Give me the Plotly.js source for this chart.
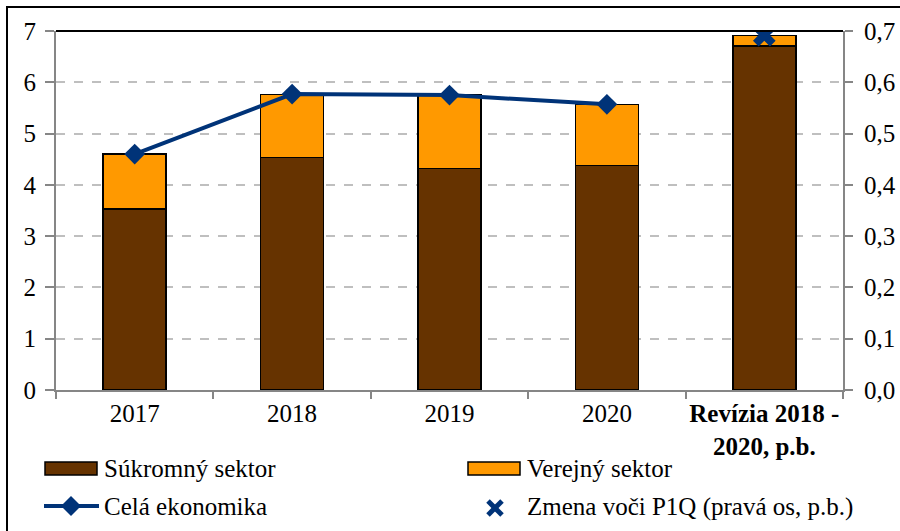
<!DOCTYPE html>
<html>
<head>
<meta charset="utf-8">
<script src="https://cdn.plot.ly/plotly-3.0.1.min.js"></script>
<style>html,body{margin:0;padding:0;background:#fff;}#chart{width:900px;height:531px;}
#chart svg text, #chart svg tspan { font-family: 'Liberation Serif', 'Times New Roman', serif !important; }</style>
</head>
<body>
<div id="chart"></div>
<script>
// ---- data ----
const categories = ['2017', '2018', '2019', '2020', 'Revízia'];
const tickLabels = ['2017', '2018', '2019', '2020', '<b>Revízia 2018 -<br>2020, p.b.</b>'];
const sukromny = [3.53, 4.53, 4.32, 4.38, 6.71];
const verejny = [1.07, 1.23, 1.43, 1.19, 0.20];
const lineCats = ['2017', '2018', '2019', '2020'];
const celaEkonomika = [4.60, 5.77, 5.75, 5.57];
const zmenaCats = ['Revízia'];
const zmena = [0.692];
const seriesNames = ['Súkromný sektor', 'Verejný sektor', 'Celá ekonomika', 'Zmena voči P1Q (pravá os, p.b.)'];

// ---- styles ----
const BROWN = '#663300', ORANGE = '#FF9900', NAVY = '#003378', GREY = '#868686';
const FONT = 'Liberation Serif';
const L = 56, R = 843, T = 31, B = 390;
const px = x => (x - L) / (R - L);
const py = y => (B - y) / (B - T);

const traces = [
  {type: 'bar', name: seriesNames[0], x: categories, y: sukromny, width: 0.4,
   marker: {color: BROWN, line: {color: '#000', width: 1.5}}, hoverinfo: 'y'},
  {type: 'bar', name: seriesNames[1], x: categories, y: verejny, width: 0.4,
   marker: {color: ORANGE, line: {color: '#000', width: 1.5}}, hoverinfo: 'y'},
  {type: 'scatter', mode: 'lines+markers', name: seriesNames[2], x: lineCats, y: celaEkonomika,
   line: {color: NAVY, width: 4}, marker: {symbol: 'diamond', size: 16, color: NAVY}},
  {type: 'scatter', mode: 'markers', name: seriesNames[3], x: zmenaCats, y: zmena, yaxis: 'y2',
   marker: {symbol: 'x', size: 20, color: NAVY}}
];

const shapes = [
  {type: 'rect', xref: 'paper', yref: 'paper', x0: px(7), x1: px(1000), y0: py(600), y1: py(7),
   line: {color: '#000', width: 2}, layer: 'below'},
  {type: 'line', xref: 'paper', yref: 'paper', x0: 0, x1: 1, y0: 1, y1: 1, line: {color: '#000', width: 2}},
  {type: 'rect', xref: 'paper', yref: 'paper', x0: px(45), x1: px(97), y0: py(475), y1: py(462),
   fillcolor: BROWN, line: {color: '#000', width: 1.5}},
  {type: 'rect', xref: 'paper', yref: 'paper', x0: px(468), x1: px(520), y0: py(475), y1: py(462),
   fillcolor: ORANGE, line: {color: '#000', width: 1.5}},
  {type: 'line', xref: 'paper', yref: 'paper', x0: px(44), x1: px(99), y0: py(506), y1: py(506),
   line: {color: NAVY, width: 4}},
  {type: 'path', xref: 'paper', yref: 'paper',
   path: `M${px(71)},${py(496)} L${px(81)},${py(506)} L${px(71)},${py(516)} L${px(61)},${py(506)} Z`,
   fillcolor: NAVY, line: {color: NAVY, width: 0}},
  {type: 'line', xref: 'paper', yref: 'paper', x0: px(488), x1: px(502), y0: py(501), y1: py(515),
   line: {color: NAVY, width: 5}},
  {type: 'line', xref: 'paper', yref: 'paper', x0: px(488), x1: px(502), y0: py(515), y1: py(501),
   line: {color: NAVY, width: 5}}
];
const legPos = [[102, 468], [525, 468], [102, 506], [525, 507]];
const annotations = seriesNames.map((n, i) => ({
  xref: 'paper', yref: 'paper', x: px(legPos[i][0]), y: py(legPos[i][1]),
  xanchor: 'left', yanchor: 'middle', showarrow: false, text: n,
  font: {family: FONT, size: 25, color: '#000'}
}));

const tf = {family: FONT, size: 25, color: '#000'};
const layout = {
  width: 900, height: 531,
  margin: {l: L, r: 900 - R, t: T, b: 531 - B, pad: 0},
  paper_bgcolor: '#fff', plot_bgcolor: '#fff',
  barmode: 'stack', bargap: 0.6, showlegend: false, separators: ', ',
  xaxis: {type: 'category', categoryorder: 'array', categoryarray: categories,
    tickvals: categories, ticktext: tickLabels, range: [-0.5, 4.5], tickangle: 0,
    showline: true, linecolor: GREY, linewidth: 2, ticks: 'outside', tickson: 'boundaries',
    ticklen: 7, tickcolor: GREY, tickwidth: 1.5, showgrid: false, zeroline: false, tickfont: tf},
  yaxis: {range: [0, 7], dtick: 1, tick0: 0, showline: true, linecolor: GREY, linewidth: 2,
    ticks: 'outside', ticklen: 9, tickcolor: GREY, tickwidth: 1.5,
    showgrid: true, gridcolor: '#BFBFBF', griddash: 'dash', gridwidth: 1.5, zeroline: false,
    tickfont: tf, ticklabelstandoff: 4},
  yaxis2: {overlaying: 'y', side: 'right', range: [0, 0.7], dtick: 0.1, tick0: 0, tickformat: '.1f',
    showline: true, linecolor: GREY, linewidth: 2, ticks: 'outside', ticklen: 8, tickcolor: GREY,
    tickwidth: 1.5, showgrid: false, zeroline: false, tickfont: tf, ticklabelstandoff: 6},
  shapes: shapes,
  annotations: annotations
};

Plotly.newPlot('chart', traces, layout, {displayModeBar: false});
</script>
</body>
</html>
